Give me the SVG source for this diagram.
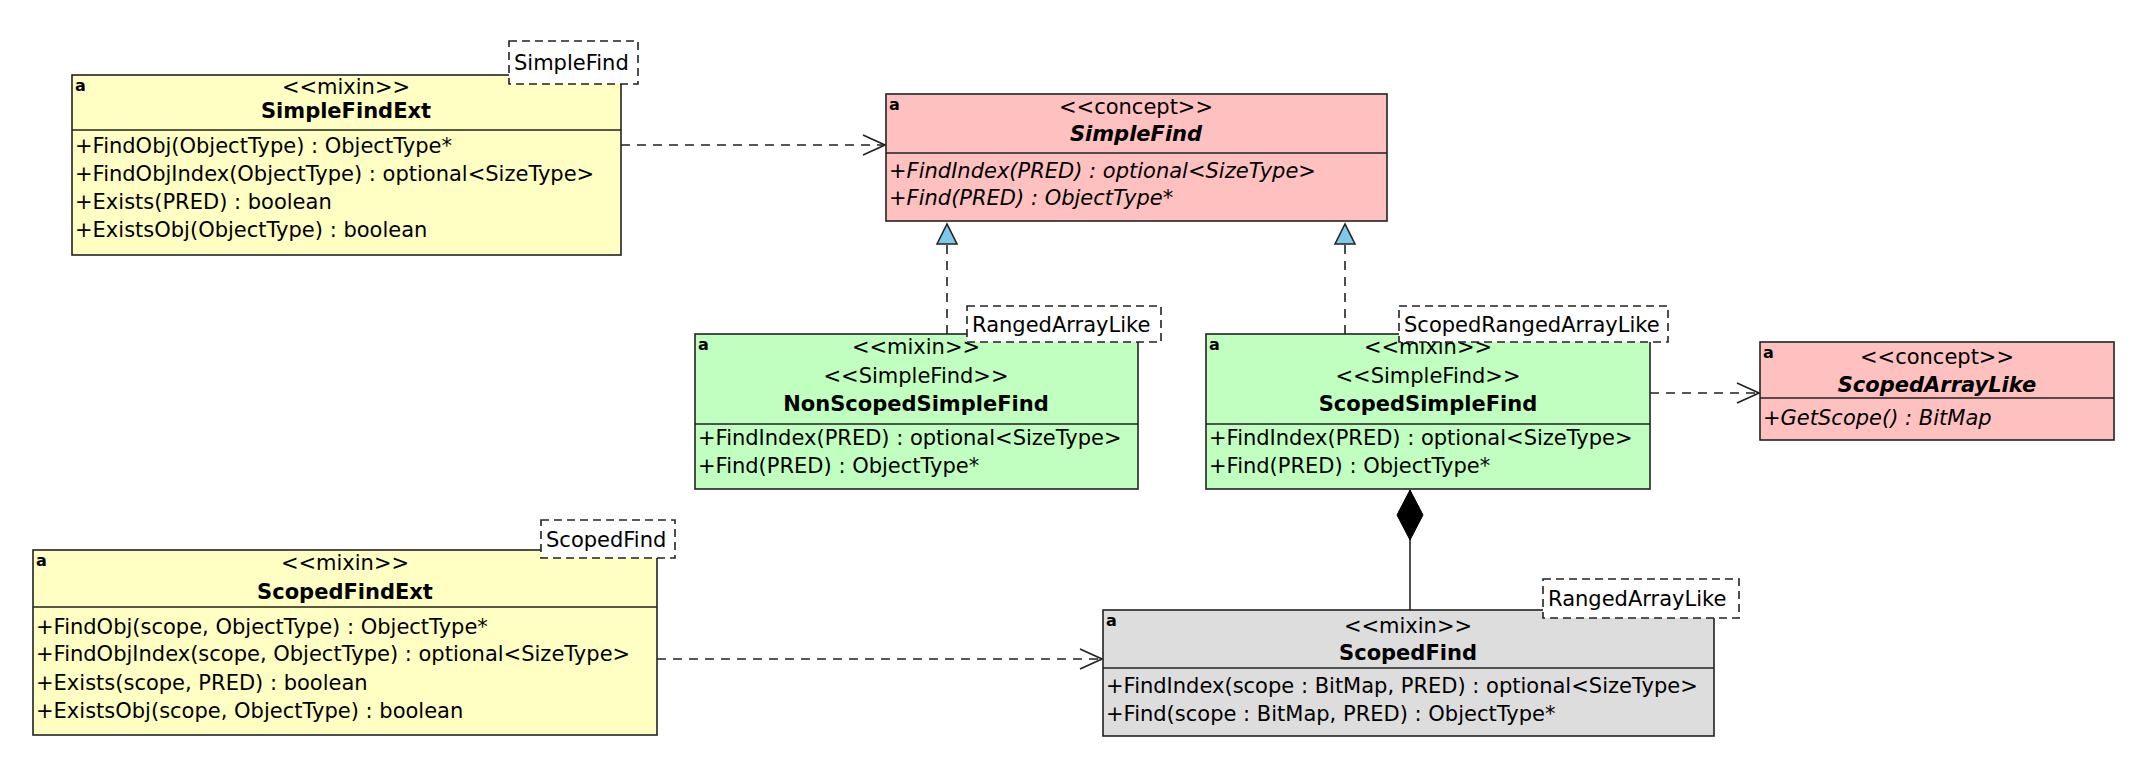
<svg xmlns="http://www.w3.org/2000/svg" width="2130" height="758" viewBox="0 0 2130 758">
<style>
text{font-family:"DejaVu Sans","Liberation Sans",sans-serif;font-size:21px;fill:#000}
.c{text-anchor:middle}
.b{font-weight:bold}
.i{font-style:italic}
.box{stroke:#222;stroke-width:1.6}
.y{fill:#FFFFC4}.p{fill:#FFC0C0}.g{fill:#C0FFC0}.gr{fill:#DDDDDD}
.sep{stroke:#222;stroke-width:1.6}
.tpl{fill:#fff;stroke:#222;stroke-width:1.6;stroke-dasharray:8 5}
.ic{font-size:16px;font-weight:bold}
.dash{fill:none;stroke:#222;stroke-width:1.6;stroke-dasharray:9 7}
.solid{fill:none;stroke:#222;stroke-width:1.6}
</style>
<defs>
<marker id="open" viewBox="0 0 24 24" refX="23" refY="12" markerWidth="24" markerHeight="24" markerUnits="userSpaceOnUse" orient="auto">
<path d="M1,2 L23,12 L1,22" fill="none" stroke="#222" stroke-width="1.6"/>
</marker>
<marker id="tri" viewBox="0 0 24 24" refX="22" refY="12" markerWidth="24" markerHeight="24" markerUnits="userSpaceOnUse" orient="auto">
<path d="M2,2 L22,12 L2,22 Z" fill="#7EC8EA" stroke="#222" stroke-width="1.6"/>
</marker>
<marker id="dia" viewBox="0 0 52 28" refX="51" refY="14" markerWidth="52" markerHeight="28" markerUnits="userSpaceOnUse" orient="auto">
<path d="M51,14 L26,1 L1,14 L26,27 Z" fill="#000" stroke="#000" stroke-width="1"/>
</marker>
</defs>

<g id="connectors">
<path class="dash" d="M621,145 L885,145" marker-end="url(#open)"/>
<path class="dash" d="M947,334 L947,224" marker-end="url(#tri)"/>
<path class="dash" d="M1345,334 L1345,224" marker-end="url(#tri)"/>
<path class="dash" d="M1650,393 L1759,393" marker-end="url(#open)"/>
<path class="dash" d="M657,659 L1102,659" marker-end="url(#open)"/>
<path class="solid" d="M1410,610 L1410,490" marker-end="url(#dia)"/>
</g>

<g id="SimpleFindExt">
<rect class="box y" x="72" y="75" width="549" height="180"/>
<line class="sep" x1="72" y1="130" x2="621" y2="130"/>
<text class="ic" x="75" y="91">a</text>
<text class="c" x="346" y="94">&lt;&lt;mixin&gt;&gt;</text>
<text class="c b" x="346" y="118">SimpleFindExt</text>
<text x="75" y="153">+FindObj(ObjectType) : ObjectType*</text>
<text x="75" y="181">+FindObjIndex(ObjectType) : optional&lt;SizeType&gt;</text>
<text x="75" y="209">+Exists(PRED) : boolean</text>
<text x="75" y="237">+ExistsObj(ObjectType) : boolean</text>
<rect class="tpl" x="509" y="41" width="129" height="43"/>
<text x="514" y="70">SimpleFind</text>
</g>

<g id="SimpleFind">
<rect class="box p" x="886" y="94" width="501" height="127"/>
<line class="sep" x1="886" y1="153" x2="1387" y2="153"/>
<text class="ic" x="889" y="110">a</text>
<text class="c" x="1136" y="114">&lt;&lt;concept&gt;&gt;</text>
<text class="c b i" x="1136" y="141">SimpleFind</text>
<text class="i" x="889" y="178">+FindIndex(PRED) : optional&lt;SizeType&gt;</text>
<text class="i" x="889" y="205">+Find(PRED) : ObjectType*</text>
</g>

<g id="NonScopedSimpleFind">
<rect class="box g" x="695" y="334" width="443" height="155"/>
<line class="sep" x1="695" y1="424" x2="1138" y2="424"/>
<text class="ic" x="698" y="350">a</text>
<text class="c" x="916" y="354">&lt;&lt;mixin&gt;&gt;</text>
<text class="c" x="916" y="383">&lt;&lt;SimpleFind&gt;&gt;</text>
<text class="c b" x="916" y="411">NonScopedSimpleFind</text>
<text x="698" y="445">+FindIndex(PRED) : optional&lt;SizeType&gt;</text>
<text x="698" y="473">+Find(PRED) : ObjectType*</text>
<rect class="tpl" x="967" y="306" width="194" height="36"/>
<text x="972" y="332">RangedArrayLike</text>
</g>

<g id="ScopedSimpleFind">
<rect class="box g" x="1206" y="334" width="444" height="155"/>
<line class="sep" x1="1206" y1="424" x2="1650" y2="424"/>
<text class="ic" x="1209" y="350">a</text>
<text class="c" x="1428" y="354">&lt;&lt;mixin&gt;&gt;</text>
<text class="c" x="1428" y="383">&lt;&lt;SimpleFind&gt;&gt;</text>
<text class="c b" x="1428" y="411">ScopedSimpleFind</text>
<text x="1209" y="445">+FindIndex(PRED) : optional&lt;SizeType&gt;</text>
<text x="1209" y="473">+Find(PRED) : ObjectType*</text>
<rect class="tpl" x="1399" y="306" width="269" height="36"/>
<text x="1404" y="332">ScopedRangedArrayLike</text>
</g>

<g id="ScopedArrayLike">
<rect class="box p" x="1760" y="342" width="354" height="98"/>
<line class="sep" x1="1760" y1="398" x2="2114" y2="398"/>
<text class="ic" x="1763" y="358">a</text>
<text class="c" x="1937" y="364">&lt;&lt;concept&gt;&gt;</text>
<text class="c b i" x="1937" y="392">ScopedArrayLike</text>
<text class="i" x="1763" y="425">+GetScope() : BitMap</text>
</g>

<g id="ScopedFindExt">
<rect class="box y" x="33" y="550" width="624" height="185"/>
<line class="sep" x1="33" y1="607" x2="657" y2="607"/>
<text class="ic" x="36" y="566">a</text>
<text class="c" x="345" y="570">&lt;&lt;mixin&gt;&gt;</text>
<text class="c b" x="345" y="599">ScopedFindExt</text>
<text x="36" y="634">+FindObj(scope, ObjectType) : ObjectType*</text>
<text x="36" y="661">+FindObjIndex(scope, ObjectType) : optional&lt;SizeType&gt;</text>
<text x="36" y="690">+Exists(scope, PRED) : boolean</text>
<text x="36" y="718">+ExistsObj(scope, ObjectType) : boolean</text>
<rect class="tpl" x="541" y="520" width="134" height="38"/>
<text x="546" y="547">ScopedFind</text>
</g>

<g id="ScopedFind">
<rect class="box gr" x="1103" y="610" width="611" height="126"/>
<line class="sep" x1="1103" y1="668" x2="1714" y2="668"/>
<text class="ic" x="1106" y="626">a</text>
<text class="c" x="1408" y="633">&lt;&lt;mixin&gt;&gt;</text>
<text class="c b" x="1408" y="660">ScopedFind</text>
<text x="1106" y="693">+FindIndex(scope : BitMap, PRED) : optional&lt;SizeType&gt;</text>
<text x="1106" y="721">+Find(scope : BitMap, PRED) : ObjectType*</text>
<rect class="tpl" x="1543" y="579" width="196" height="39"/>
<text x="1548" y="606">RangedArrayLike</text>
</g>
</svg>
